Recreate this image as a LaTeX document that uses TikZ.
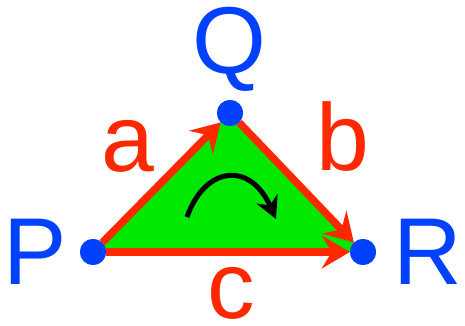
\documentclass[tikz,border=0pt]{standalone}
\usepackage{fontspec}
\setmainfont{Liberation Sans}
\usetikzlibrary{arrows.meta}
\definecolor{ptblue}{RGB}{0,64,255}
\definecolor{edgered}{RGB}{255,40,0}
\definecolor{facegreen}{RGB}{0,232,0}

\begin{document}
\begin{tikzpicture}[x=1pt,y=1pt,
  dot/.style={circle,fill=ptblue,inner sep=0pt,minimum size=26pt},
  ptlabel/.style={text=ptblue,inner sep=0pt,font=\fontsize{95}{95}\selectfont},
  edgelabel/.style={text=edgered,inner sep=0pt,font=\fontsize{95}{95}\selectfont},
  edge/.style={draw=edgered,line width=7.5pt,-{Stealth[length=28pt,width=33pt,inset=10pt]}}]
\useasboundingbox (0,0) rectangle (465,326);
\coordinate (p) at (93,74);
\coordinate (q) at (230,213);
\coordinate (r) at (363,74);
\fill[facegreen] (p) -- (q) -- (r) -- cycle;
\node[dot] (P) at (p) {};
\node[dot] (Q) at (q) {};
\node[dot] (R) at (r) {};
\draw[edge] (P) -- (Q);
\draw[edge] (Q) -- (R);
\draw[edge] (P) -- (R);
\node[dot] at (p) {};
\node[dot] at (q) {};
\node[dot] at (r) {};
\node[ptlabel] (Plab) at (35,74) {P};
\node[ptlabel] (Qlab) at (229,277) {Q};
\node[ptlabel] (Rlab) at (428,74) {R};
\node[edgelabel] (alab) at (128,180) {a};
\node[edgelabel] (blab) at (343,189) {b};
\node[edgelabel] (clab) at (231,33) {c};
\coordinate (turnstart) at (187,109);
\coordinate (turnend) at (276,107);
\draw[line width=5pt,-{Stealth[length=22pt,width=23pt,inset=7pt]}] (turnstart) .. controls (205,160) and (250,165) .. (turnend);
\end{tikzpicture}
\end{document}
